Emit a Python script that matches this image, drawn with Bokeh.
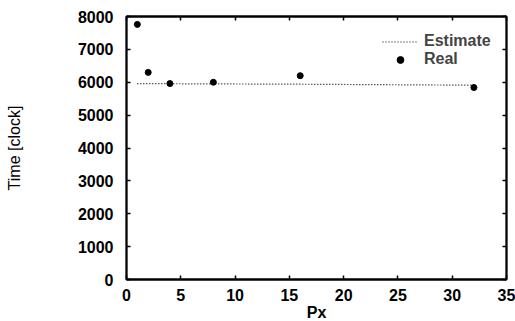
from bokeh.plotting import figure
from bokeh.models import LinearAxis, Legend, LegendItem, FixedTicker, Range1d
from bokeh.embed import file_html
from bokeh.resources import INLINE

# Data
px_real = [1, 2, 4, 8, 16, 32]
time_real = [7760, 6300, 5960, 6000, 6200, 5840]
px_est = [1, 2, 4, 8, 16, 32]
time_est = [5960, 5960, 5955, 5950, 5940, 5910]
x_ticks = [0, 5, 10, 15, 20, 25, 30, 35]
y_ticks = [0, 1000, 2000, 3000, 4000, 5000, 6000, 7000, 8000]

FONT = "Liberation Sans"

p = figure(frame_width=380, frame_height=263, output_backend="svg", toolbar_location=None,
           x_range=Range1d(0, 35), y_range=Range1d(0, 8000),
           min_border_left=126, min_border_right=9, min_border_top=16, min_border_bottom=42)
p.xgrid.visible = False
p.ygrid.visible = False
p.outline_line_color = "black"
p.outline_line_width = 1.8
p.background_fill_color = "white"
p.border_fill_color = "white"

def style_axis(ax, ticks, show_labels=True):
    ax.ticker = FixedTicker(ticks=ticks)
    ax.major_tick_in = 4
    ax.major_tick_out = 0
    ax.minor_tick_in = 0
    ax.minor_tick_out = 0
    ax.axis_line_color = "black"
    ax.axis_line_width = 1.8
    ax.major_tick_line_width = 1.5
    ax.major_label_text_font = FONT
    ax.major_label_text_font_style = "bold"
    ax.major_label_text_font_size = "16px"
    ax.major_label_text_color = "black"
    if not show_labels:
        ax.major_label_overrides = {t: "" for t in ticks}
    ax.axis_label_text_font = FONT
    ax.axis_label_text_font_size = "16px"
    ax.axis_label_text_color = "black"

style_axis(p.xaxis[0], x_ticks)
style_axis(p.yaxis[0], y_ticks)
p.xaxis[0].axis_label = "Px"
p.xaxis[0].axis_label_text_font_style = "bold"
p.xaxis[0].major_label_standoff = 9
p.xaxis[0].axis_label_standoff = 0
p.yaxis[0].axis_label = "Time [clock]"
p.yaxis[0].axis_label_text_font_style = "normal"
p.yaxis[0].major_label_standoff = 13
p.yaxis[0].axis_label_standoff = 52

top = LinearAxis()
style_axis(top, x_ticks, show_labels=False)
top.major_label_standoff = 0
p.add_layout(top, "above")
right = LinearAxis()
style_axis(right, y_ticks, show_labels=False)
right.major_label_standoff = 0
p.add_layout(right, "right")

est = p.line(px_est, time_est, line_color="black", line_width=1.2, line_dash="1 2")
real = p.scatter(px_real, time_real, size=6, color="black", marker="circle")

legend = Legend(items=[LegendItem(label="Estimate", renderers=[est]),
                       LegendItem(label="Real", renderers=[real])],
                location=(256, 211))
legend.label_text_font = FONT
legend.label_text_font_style = "bold"
legend.label_text_font_size = "16px"
legend.background_fill_alpha = 0
legend.border_line_color = None
legend.glyph_width = 36
legend.spacing = 0
legend.label_height = 17
legend.glyph_height = 17
legend.label_standoff = 6
legend.margin = 0
legend.padding = 4
p.add_layout(legend)

open("out.html", "w").write(file_html(p, INLINE))
